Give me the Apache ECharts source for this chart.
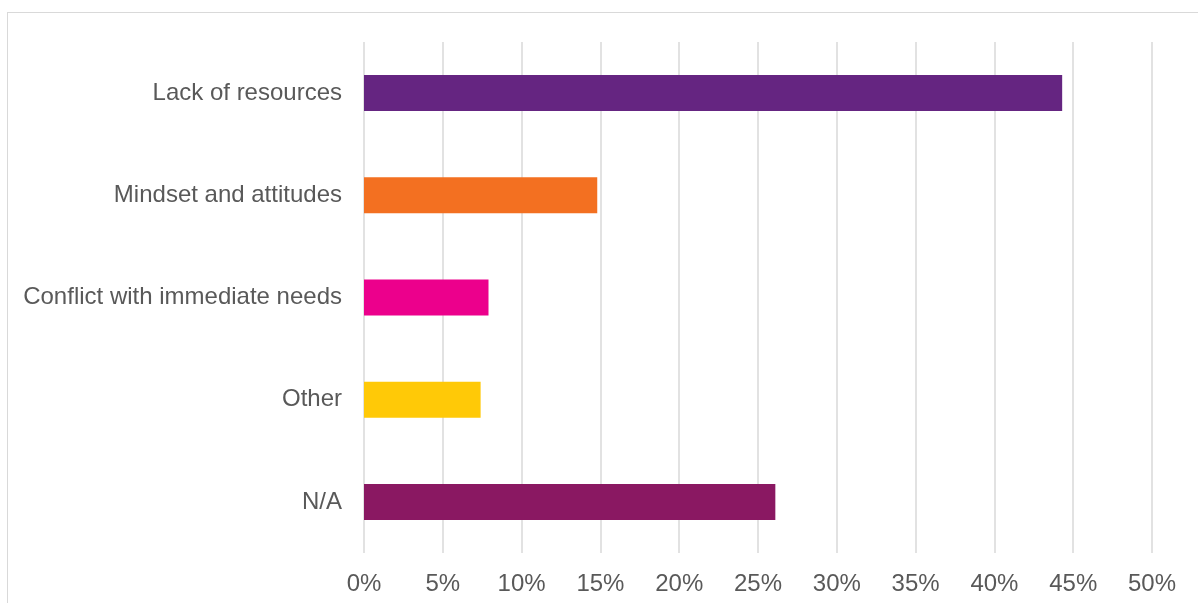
<!DOCTYPE html>
<html>
<head>
<meta charset="utf-8">
<script src="https://cdn.jsdelivr.net/npm/echarts@6/dist/echarts.min.js"></script>
<style>
  html, body { margin: 0; padding: 0; background: #fff; overflow: hidden; }
  #frame { position: absolute; left: 7px; top: 12px; width: 1400px; height: 800px; border: 1px solid #d9d9d9; }
  #chart { position: absolute; left: 0; top: 0; width: 1198px; height: 603px; }
</style>
</head>
<body>
<div id="frame"></div>
<div id="chart"></div>
<script>
const categories = ['Lack of resources', 'Mindset and attitudes', 'Conflict with immediate needs', 'Other', 'N/A'];
const values = [44.3, 14.8, 7.9, 7.4, 26.1];
const colors = ['#652581', '#F37021', '#EC008C', '#FFC907', '#8A1862'];

const myChart = echarts.init(document.getElementById('chart'));

const option = {
    animation: false,
    grid: { left: 364, right: 46, top: 42, bottom: 50, containLabel: false },
    xAxis: {
        type: 'value',
        min: 0,
        max: 50,
        interval: 5,
        axisLine: { show: false },
        axisTick: { show: false },
        axisLabel: {
            formatter: '{value}%',
            color: '#595959',
            fontFamily: 'Liberation Sans, Arial, sans-serif',
            fontSize: 24,
            margin: 19
        },
        splitLine: { show: true, lineStyle: { color: '#d9d9d9', width: 1.5 } }
    },
    yAxis: {
        type: 'category',
        data: categories,
        inverse: true,
        axisLine: { show: false },
        axisTick: { show: false },
        axisLabel: {
            color: '#595959',
            fontFamily: 'Liberation Sans, Arial, sans-serif',
            fontSize: 24,
            margin: 22
        }
    },
    series: [{
        type: 'bar',
        barWidth: 36,
        data: values.map((v, i) => ({ value: v, itemStyle: { color: colors[i] } }))
    }]
};

myChart.setOption(option);
</script>
</body>
</html>
